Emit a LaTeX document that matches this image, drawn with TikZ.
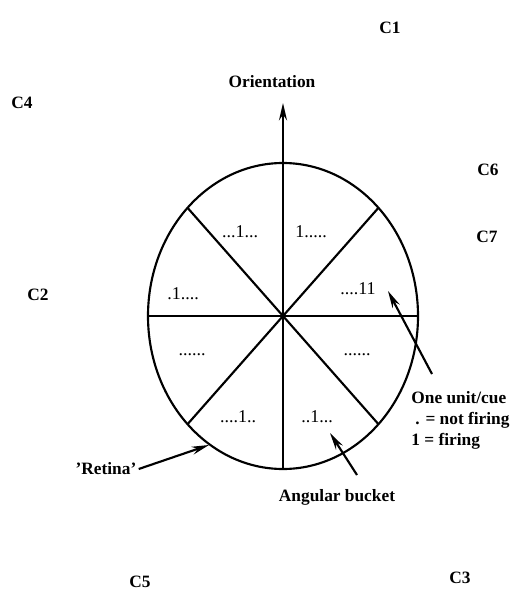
\documentclass[tikz,border=0pt]{standalone}
\usepackage{fontspec}
\setmainfont{Liberation Serif}
\usetikzlibrary{arrows.meta}
\begin{document}
\begin{tikzpicture}[x=0.75pt,y=-0.75pt,line width=1.6pt,
  every node/.style={font=\fontsize{13}{15}\selectfont\bfseries,inner sep=1pt},
  cue/.style={font=\fontsize{13.5}{15}\selectfont},
  pointer/.style={-{Stealth[length=13pt,width=6pt]},line width=1.6pt}]
\useasboundingbox (0,0) rectangle (522,596);
% Retina and its angular buckets
\coordinate (o) at (283,316);
\draw (o) ellipse [x radius=135,y radius=153];
\foreach \a in {0,45,...,315} {
  \coordinate (r\a) at ({283+135*cos(\a)},{316+153*sin(\a)});
}
\draw (r0) -- (r180);
\draw (r45) -- (r225);
\draw (r135) -- (r315);
\node (ori) at (272,82) {Orientation};
\coordinate (oritip) at (283,103);
\draw[pointer] (r90) -- (oritip);
% Cue units per bucket
\node[cue] (b1) at (240,232) {...1...};
\node[cue] (b2) at (311,232) {1.....};
\node[cue] (b3) at (183,294) {.1....};
\node[cue] (b4) at (358,289) {....11};
\node[cue] (b5) at (192,355) {......};
\node[cue] (b6) at (357,355) {......};
\node[cue] (b7) at (238,417) {....1..};
\node[cue] (b8) at (317,417) {..1...};
% Cells
\node (c1) at (390,28) {C1};
\node (c4) at (22,103) {C4};
\node (c6) at (488,170) {C6};
\node (c7) at (487,237) {C7};
\node (c2) at (38,295) {C2};
\node (c5) at (140,582) {C5};
\node (c3) at (460,578) {C3};
% Labels
\node[anchor=west] (unit) at (409,398) {One unit/cue};
\node[anchor=west] (off) at (413,420) {. = not firing};
\node[anchor=west] (on) at (409,441) {1 = firing};
\coordinate (unittail) at (432,374);
\coordinate (unittip) at (388,291);
\draw[pointer] (unittail) -- (unittip);
\node (bucket) at (337,497) {Angular bucket};
\coordinate (buckettail) at (357,475);
\coordinate (buckettip) at (330,433);
\draw[pointer] (buckettail) -- (buckettip);
\node (retina) at (106,469) {'Retina'};
\coordinate (retinatip) at (209,445);
\draw[pointer] (retina.east) -- (retinatip);
\end{tikzpicture}
\end{document}
